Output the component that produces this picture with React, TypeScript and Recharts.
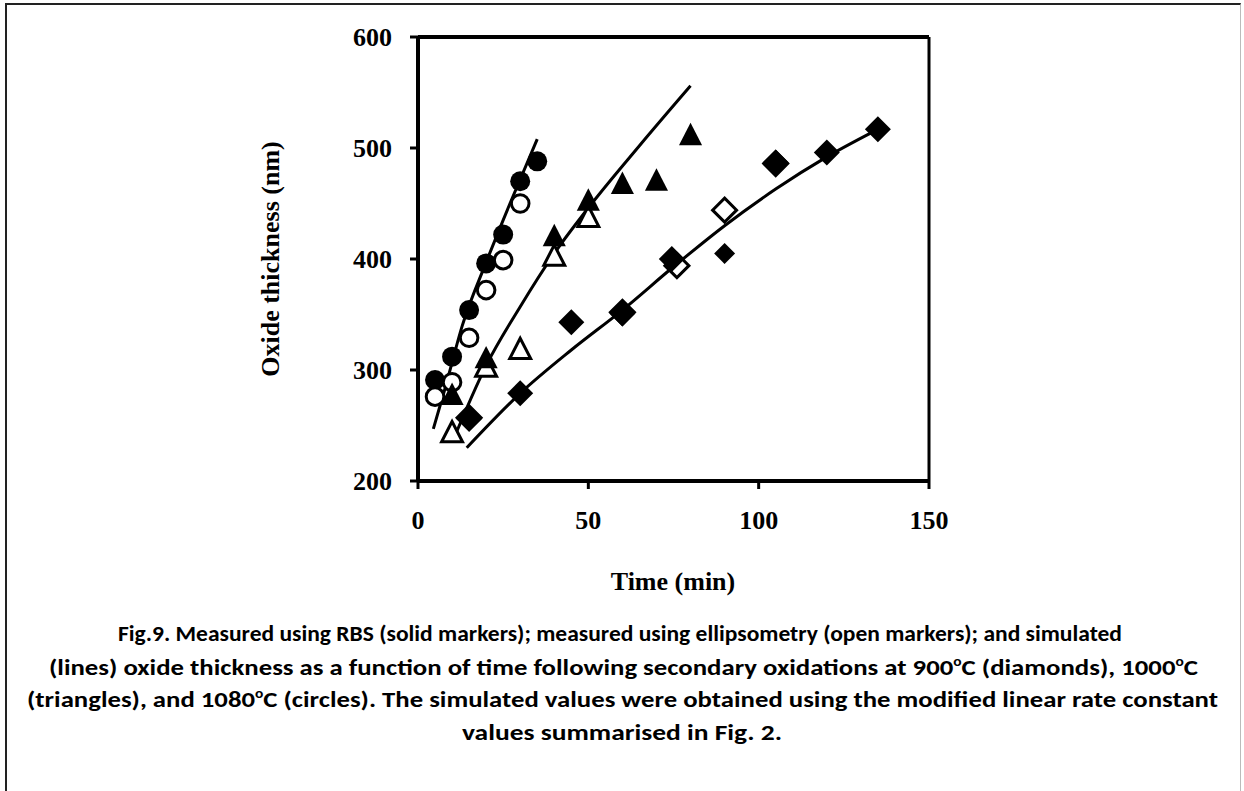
import React from "react";
import {
  ComposedChart,
  Line,
  Scatter,
  XAxis,
  YAxis,
  ReferenceLine,
} from "recharts";

// ---------- data ----------
const xTicks = [0, 50, 100, 150];
const yTicks = [200, 300, 400, 500, 600];

// 1080 C (circles)
const rbs1080X = [5, 10, 15, 20, 25, 30, 35];
const rbs1080Y = [291, 312, 354, 396, 422, 470, 488];
const ell1080X = [5, 10, 15, 20, 25, 30];
const ell1080Y = [276, 289, 329, 372, 399, 450];
const sim1080X = [4.5, 8, 13, 20, 27, 35];
const sim1080Y = [247, 284, 340, 397, 450, 508];

// 1000 C (triangles)
const rbs1000X = [10, 20, 40, 50, 60, 70, 80];
const rbs1000Y = [277, 310, 420, 452, 467, 470, 511];
const ell1000X = [10, 20, 30, 40, 50];
const ell1000Y = [243, 302, 318, 402, 437];
const sim1000X = [10.2, 20, 30, 40, 50, 65, 80];
const sim1000Y = [236, 304, 357, 405, 446, 502, 556];

// 900 C (diamonds)
const rbs900X = [15, 30, 45, 60, 74.5, 105, 120, 135];
const rbs900Y = [256, 279, 343, 351, 400, 487, 496, 517];
const rbs900SmallX = [90];
const rbs900SmallY = [405];
const ell900X = [15, 60, 76, 90, 105];
const ell900Y = [257, 352, 394, 444, 486];
const sim900X = [14.3, 30, 45, 60, 75, 90, 105, 120, 137];
const sim900Y = [230, 279, 318, 354, 393, 430, 463, 492, 520];

const toPts = (xs: number[], ys: number[]) => xs.map((x, i) => ({ x, y: ys[i] }));

// ---------- marker shapes ----------
const SolidCircle = (p: any) => <circle cx={p.cx} cy={p.cy} r={10} fill="#000" />;
const OpenCircle = (p: any) => (
  <circle cx={p.cx} cy={p.cy} r={8.8} fill="#fff" stroke="#000" strokeWidth={3} />
);
const triPts = (cx: number, cy: number, s: number) =>
  `${cx},${cy - s * 0.62} ${cx - s * 0.55},${cy + s * 0.45} ${cx + s * 0.55},${cy + s * 0.45}`;
const SolidTri = (p: any) => <polygon points={triPts(p.cx, p.cy, 21)} fill="#000" />;
const OpenTri = (p: any) => (
  <polygon points={triPts(p.cx, p.cy, 19)} fill="#fff" stroke="#000" strokeWidth={3} strokeLinejoin="miter" />
);
const diaPts = (cx: number, cy: number, h: number) =>
  `${cx},${cy - h} ${cx + h},${cy} ${cx},${cy + h} ${cx - h},${cy}`;
const SolidDia = (p: any) => <polygon points={diaPts(p.cx, p.cy, 13)} fill="#000" />;
const SmallDia = (p: any) => <polygon points={diaPts(p.cx, p.cy, 10.5)} fill="#000" />;
const OpenDia = (p: any) => (
  <polygon points={diaPts(p.cx, p.cy, 12)} fill="#fff" stroke="#000" strokeWidth={3} />
);

const serif = "'Liberation Serif', 'Times New Roman', serif";
const sans = "Carlito, Lato, 'Open Sans', sans-serif";

const tickStyle = { fontFamily: serif, fontWeight: 700, fontSize: 26, fill: "#000" };

// caption lines: segments, "^" marks a superscript "o"
const captionLines: string[][] = [
  ["Fig.9. Measured using RBS (solid markers); measured using ellipsometry (open markers); and simulated"],
  ["(lines) oxide thickness as a function of time following secondary oxidations at 900", "^", "C (diamonds), 1000", "^", "C"],
  ["(triangles), and 1080", "^", "C (circles). The simulated values were obtained using the modified linear rate constant"],
  ["values summarised in Fig. 2."],
];
const captionX0 = [118, 49, 27, 462];
const captionX1 = [1122, 1198, 1218, 782];
const captionBase = [641, 675, 707, 740];

const CaptionLine = ({ segs, x0, x1, y }: { segs: string[]; x0: number; x1: number; y: number }) => {
  const parts: React.ReactNode[] = [];
  let raised = false;
  segs.forEach((s, i) => {
    if (s === "^") {
      parts.push(
        <tspan key={i} dy={-9} fontSize={13}>
          o
        </tspan>
      );
      raised = true;
    } else {
      parts.push(
        <tspan key={i} dy={raised ? 9 : 0}>
          {s}
        </tspan>
      );
      raised = false;
    }
  });
  return (
    <text
      x={x0}
      y={y}
      textLength={x1 - x0}
      lengthAdjust="spacingAndGlyphs"
      fontFamily={sans}
      fontWeight={700}
      fontSize={22.5}
      fill="#000"
    >
      {parts}
    </text>
  );
};

export default function App() {
  return (
    <div style={{ position: "absolute", left: 0, top: 0, width: 1244, height: 791, background: "#fff", overflow: "hidden" }}>
      <div
        style={{
          position: "absolute",
          left: 5,
          top: 3,
          width: 1236,
          height: 820,
          borderTop: "2px solid #222",
          borderLeft: "2px solid #222",
          borderRight: "1px solid #bbb",
          boxSizing: "border-box",
        }}
      />
      <div style={{ position: "absolute", left: 0, top: 0 }}>
        <ComposedChart
          width={1244}
          height={620}
          margin={{ top: 37, right: 315, bottom: 99, left: 358 }}
        >
          <XAxis
            type="number"
            dataKey="x"
            domain={[0, 150]}
            ticks={xTicks}
            allowDataOverflow
            height={40}
            axisLine={{ stroke: "#000", strokeWidth: 4 }}
            tickLine={{ stroke: "#000", strokeWidth: 3 }}
            tickSize={8}
            tickMargin={22}
            tick={tickStyle}
          />
          <YAxis
            type="number"
            dataKey="y"
            domain={[200, 600]}
            ticks={yTicks}
            allowDataOverflow
            width={60}
            axisLine={{ stroke: "#000", strokeWidth: 4 }}
            tickLine={{ stroke: "#000", strokeWidth: 3 }}
            tickSize={8}
            tickMargin={18}
            tick={tickStyle}
          />
          <ReferenceLine y={600} stroke="#000" strokeWidth={4} ifOverflow="visible" />
          <ReferenceLine x={150} stroke="#000" strokeWidth={3} ifOverflow="visible" />

          <Line data={toPts(sim1080X, sim1080Y)} dataKey="y" type="monotone" stroke="#000" strokeWidth={3} dot={false} isAnimationActive={false} />
          <Line data={toPts(sim1000X, sim1000Y)} dataKey="y" type="monotone" stroke="#000" strokeWidth={3} dot={false} isAnimationActive={false} />
          <Line data={toPts(sim900X, sim900Y)} dataKey="y" type="monotone" stroke="#000" strokeWidth={3} dot={false} isAnimationActive={false} />

          <Scatter data={toPts(ell900X, ell900Y)} dataKey="y" shape={OpenDia} isAnimationActive={false} />
          <Scatter data={toPts(rbs900X, rbs900Y)} dataKey="y" shape={SolidDia} isAnimationActive={false} />
          <Scatter data={toPts(rbs900SmallX, rbs900SmallY)} dataKey="y" shape={SmallDia} isAnimationActive={false} />
          <Scatter data={toPts(rbs1080X, rbs1080Y)} dataKey="y" shape={SolidCircle} isAnimationActive={false} />
          <Scatter data={toPts(ell1080X, ell1080Y)} dataKey="y" shape={OpenCircle} isAnimationActive={false} />
          <Scatter data={toPts(ell1000X, ell1000Y)} dataKey="y" shape={OpenTri} isAnimationActive={false} />
          <Scatter data={toPts(rbs1000X, rbs1000Y)} dataKey="y" shape={SolidTri} isAnimationActive={false} />
        </ComposedChart>
      </div>

      <div
        style={{
          position: "absolute",
          left: 271,
          top: 259,
          transform: "translate(-50%, -50%) rotate(-90deg)",
          fontFamily: serif,
          fontWeight: 700,
          fontSize: 26,
          whiteSpace: "nowrap",
          lineHeight: 1,
        }}
      >
        Oxide thickness (nm)
      </div>
      <div
        style={{
          position: "absolute",
          left: 673,
          top: 582,
          transform: "translate(-50%, -50%)",
          fontFamily: serif,
          fontWeight: 700,
          fontSize: 26,
          whiteSpace: "nowrap",
          lineHeight: 1,
        }}
      >
        Time (min)
      </div>

      <svg width={1244} height={791} style={{ position: "absolute", left: 0, top: 0, pointerEvents: "none" }}>
        {captionLines.map((segs, i) => (
          <CaptionLine key={i} segs={segs} x0={captionX0[i]} x1={captionX1[i]} y={captionBase[i]} />
        ))}
      </svg>
    </div>
  );
}
